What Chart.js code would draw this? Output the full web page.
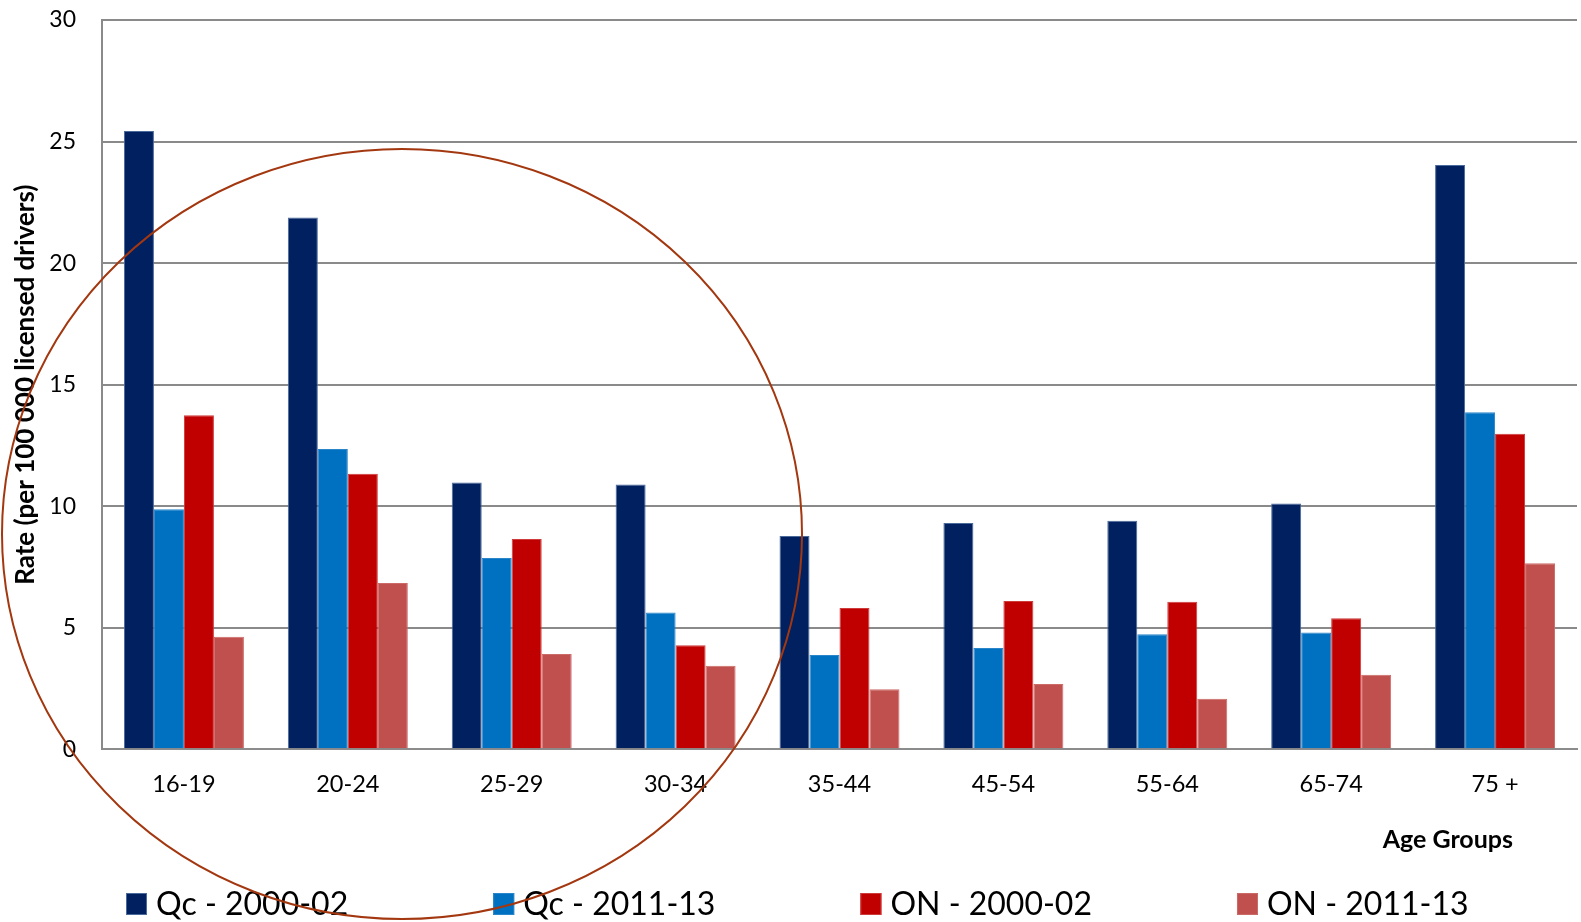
<!DOCTYPE html>
<html>
<head>
<meta charset="utf-8">
<title>Rate by age group</title>
<script src="https://cdn.jsdelivr.net/npm/chart.js@4.4.1/dist/chart.umd.min.js"></script>
<style>
  html, body { margin: 0; padding: 0; background: #ffffff; }
  #wrap { width: 1581px; height: 922px; position: relative; }
</style>
</head>
<body>
<div id="wrap"><canvas id="chart"></canvas></div>
<script>
// Age groups on the x axis
const ageGroups = ['16-19', '20-24', '25-29', '30-34', '35-44', '45-54', '55-64', '65-74', '75 +'];

// Rates per 100 000 licensed drivers
const qc2000 = [25.43, 21.88, 10.97, 10.89, 8.77, 9.31, 9.40, 10.11, 24.04];
const qc2011 = [9.87, 12.35, 7.87, 5.63, 3.88, 4.17, 4.73, 4.80, 13.86];
const on2000 = [13.74, 11.33, 8.65, 4.28, 5.81, 6.10, 6.07, 5.39, 12.98];
const on2011 = [4.63, 6.84, 3.92, 3.44, 2.47, 2.69, 2.08, 3.07, 7.65];

// Series names and y tick values
const seriesNames = ['Qc - 2000-02', 'Qc - 2011-13', 'ON - 2000-02', 'ON - 2011-13'];
const yTicks = [0, 5, 10, 15, 20, 25, 30];

const yTitle = 'Rate (per 100 000 licensed drivers)';
const xTitle = 'Age Groups';

const FONT = 'Lato, "Open Sans", sans-serif';

// Legend drawn in a single row under the axis, evenly gapped
const bottomLegend = {
  id: 'bottomLegend',
  afterDraw(chart) {
    const ctx = chart.ctx;
    ctx.save();
    ctx.font = '32px ' + FONT;
    ctx.textBaseline = 'alphabetic';
    ctx.textAlign = 'left';
    let x = 126;
    const boxW = 21, boxH = 22, boxTop = 893, baseline = 915;
    chart.data.datasets.forEach(ds => {
      ctx.fillStyle = ds.backgroundColor;
      ctx.fillRect(x, boxTop, boxW, boxH);
      ctx.strokeStyle = ds.borderColor;
      ctx.lineWidth = 1;
      ctx.strokeRect(x + 0.5, boxTop + 0.5, boxW - 1, boxH - 1);
      const tx = x + boxW + 9;
      ctx.fillStyle = '#000000';
      ctx.fillText(ds.label, tx, baseline);
      x = tx + ctx.measureText(ds.label).width + 145;
    });
    ctx.restore();
  }
};

// Right-aligned x axis title below the tick labels
const xAxisTitle = {
  id: 'xAxisTitle',
  afterDraw(chart) {
    const ctx = chart.ctx;
    const area = chart.chartArea;
    ctx.save();
    ctx.font = 'bold 25px ' + FONT;
    ctx.fillStyle = '#000000';
    ctx.textAlign = 'right';
    ctx.textBaseline = 'middle';
    ctx.fillText(xTitle, area.right - 64, area.bottom + 91);
    ctx.restore();
  }
};

// Hand-drawn style ellipse highlighting the young age groups
const highlightRing = {
  id: 'highlightRing',
  afterDraw(chart) {
    const ctx = chart.ctx;
    ctx.save();
    ctx.beginPath();
    ctx.ellipse(402, 534, 400, 385, 0, 0, Math.PI * 2);
    ctx.strokeStyle = '#A3370F';
    ctx.lineWidth = 2;
    ctx.stroke();
    ctx.restore();
  }
};

new Chart(document.getElementById('chart'), {
  type: 'bar',
  data: {
    labels: ageGroups,
    datasets: [
      { label: seriesNames[0], data: qc2000, backgroundColor: '#002060', borderColor: '#4b6a9c', borderWidth: 1 },
      { label: seriesNames[1], data: qc2011, backgroundColor: '#0070C0', borderColor: '#2a86c8', borderWidth: 1 },
      { label: seriesNames[2], data: on2000, backgroundColor: '#C00000', borderColor: '#cf3a3a', borderWidth: 1 },
      { label: seriesNames[3], data: on2011, backgroundColor: '#C0504D', borderColor: '#cc6a67', borderWidth: 1 }
    ]
  },
  options: {
    responsive: true,
    maintainAspectRatio: false,
    animation: false,
    layout: { padding: { top: 20, right: 4, left: 0, bottom: 0 } },
    datasets: {
      bar: { categoryPercentage: 0.732, barPercentage: 1.0 }
    },
    plugins: {
      legend: { display: false },
      tooltip: { enabled: false }
    },
    scales: {
      x: {
        grid: { display: false, drawTicks: false },
        border: { display: true, color: '#8c8c8c', width: 2 },
        ticks: {
          color: '#000000',
          font: { family: FONT, size: 23.5 },
          padding: 21
        },
        afterFit(scale) {
          scale.height = 172.7;
          scale.paddingLeft = 0;
          scale.paddingRight = 0;
        }
      },
      y: {
        min: 0,
        max: 30,
        afterBuildTicks(scale) { scale.ticks = yTicks.map(v => ({ value: v })); },
        grid: { color: '#8a8a8a', lineWidth: 2, drawTicks: false },
        border: { display: true, color: '#8a8a8a', width: 2 },
        ticks: {
          color: '#000000',
          font: { family: FONT, size: 23 },
          padding: 26
        },
        title: {
          display: true,
          text: yTitle,
          color: '#000000',
          font: { family: FONT, size: 26, weight: 'bold' },
          padding: { top: 10, bottom: 0 }
        },
        afterFit(scale) {
          scale.width = 102;
          scale.paddingTop = 0;
          scale.paddingBottom = 0;
        }
      }
    }
  },
  plugins: [bottomLegend, xAxisTitle, highlightRing]
});
</script>
</body>
</html>
